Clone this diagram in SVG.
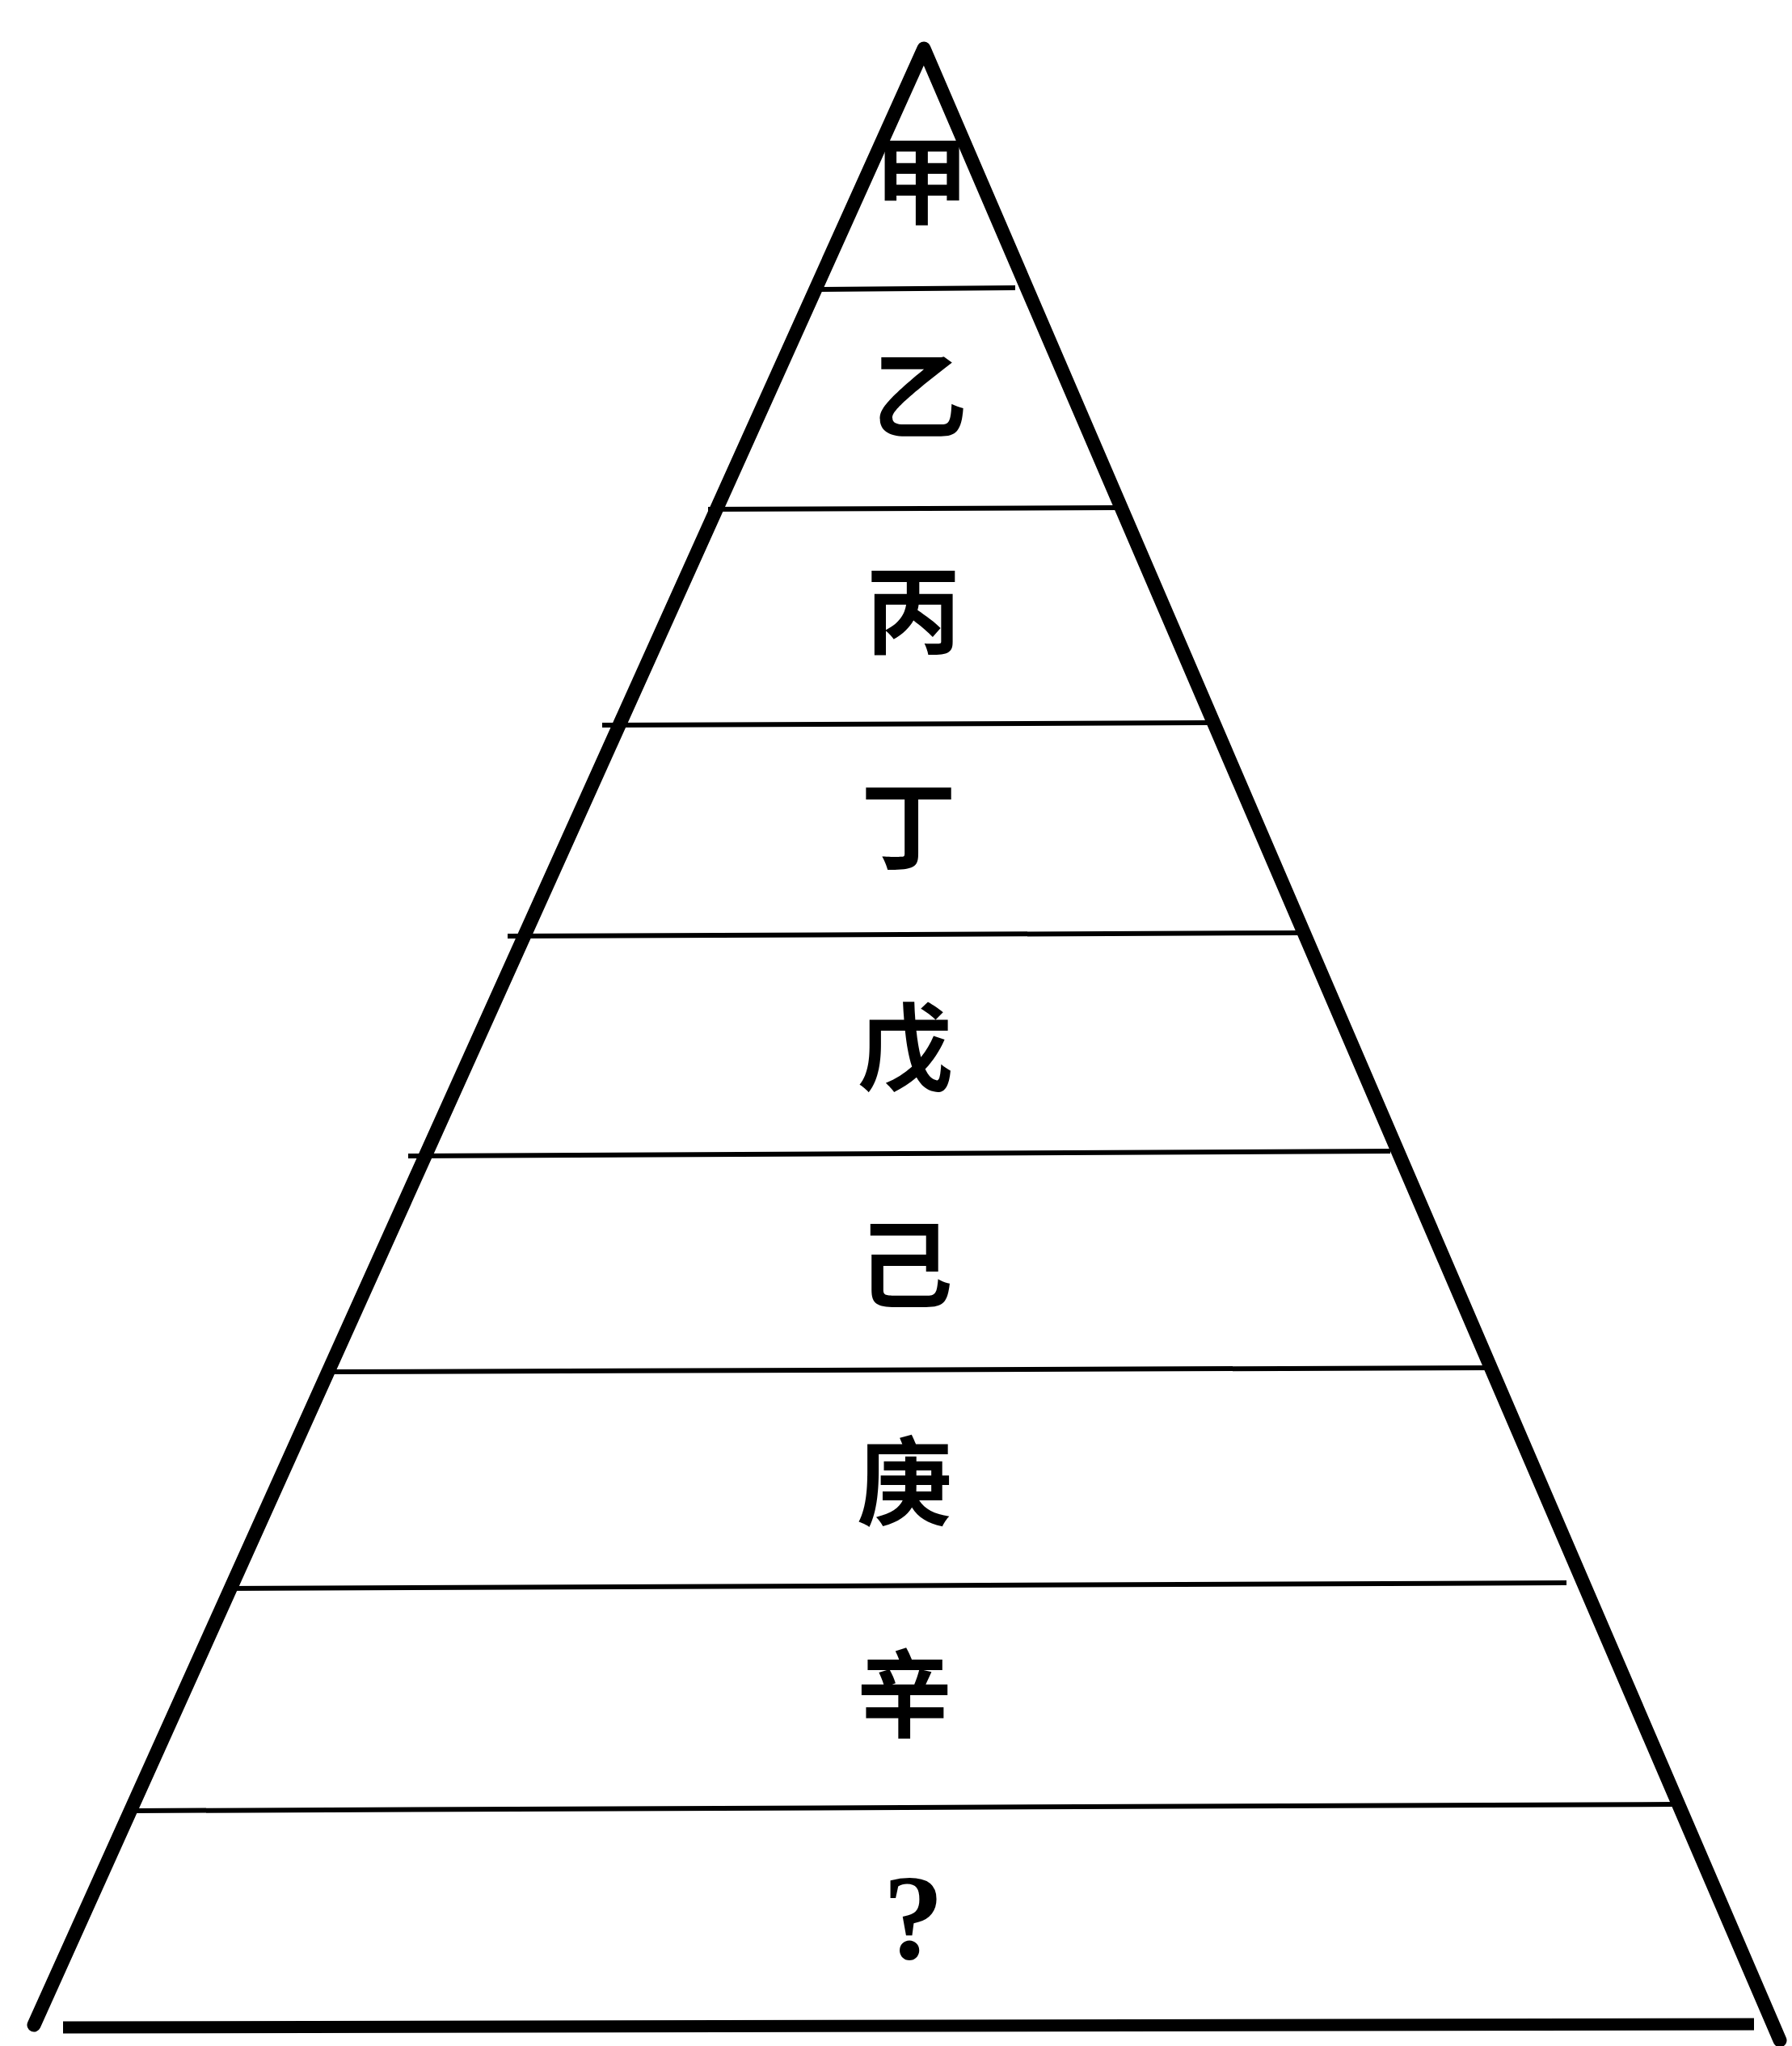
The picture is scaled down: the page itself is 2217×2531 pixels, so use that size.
<svg xmlns="http://www.w3.org/2000/svg" width="2217" height="2531" viewBox="0 0 2217 2531">
<style>
.side{stroke:#000;stroke-width:17;fill:none;stroke-linecap:round;stroke-linejoin:round}
.rule{stroke:#000;stroke-width:6;stroke-linecap:butt}
.base{stroke:#000;stroke-width:15;stroke-linecap:butt}
.lbl{font-family:"Liberation Serif","Noto Sans CJK TC",serif;font-size:118px;font-weight:bold;fill:#000;text-anchor:middle;dominant-baseline:central}
.q{font-size:150px}
</style>
<rect width="2217" height="2531" fill="#fff"/>
<g id="connectors">
<path class="side" d="M42,2505 L1143,60 L2202,2524"/>
<line class="rule" x1="1006" y1="358" x2="1256" y2="356"/>
<line class="rule" x1="876" y1="630" x2="1385" y2="628"/>
<line class="rule" x1="745" y1="897" x2="1498" y2="894"/>
<line class="rule" x1="628" y1="1158" x2="1607" y2="1154"/>
<line class="rule" x1="505" y1="1430" x2="1720" y2="1424"/>
<line class="rule" x1="407" y1="1697" x2="1849" y2="1692"/>
<line class="rule" x1="278" y1="1965" x2="1938" y2="1958"/>
<line class="rule" x1="166" y1="2240" x2="2072" y2="2232"/>
<line class="base" x1="78" y1="2508" x2="2170" y2="2504"/>
</g>
<g id="n1"><text class="lbl" x="1140" y="228">甲</text></g>
<g id="n2"><text class="lbl" x="1138" y="494">乙</text></g>
<g id="n3"><text class="lbl" x="1130" y="760">丙</text></g>
<g id="n4"><text class="lbl" x="1124" y="1026">丁</text></g>
<g id="n5"><text class="lbl" x="1120" y="1300">戊</text></g>
<g id="n6"><text class="lbl" x="1120" y="1568">己</text></g>
<g id="n7"><text class="lbl" x="1119" y="1837">庚</text></g>
<g id="n8"><text class="lbl" x="1119" y="2100">辛</text></g>
<g id="n9"><text class="lbl q" x="1130" y="2372">?</text></g>
</svg>
